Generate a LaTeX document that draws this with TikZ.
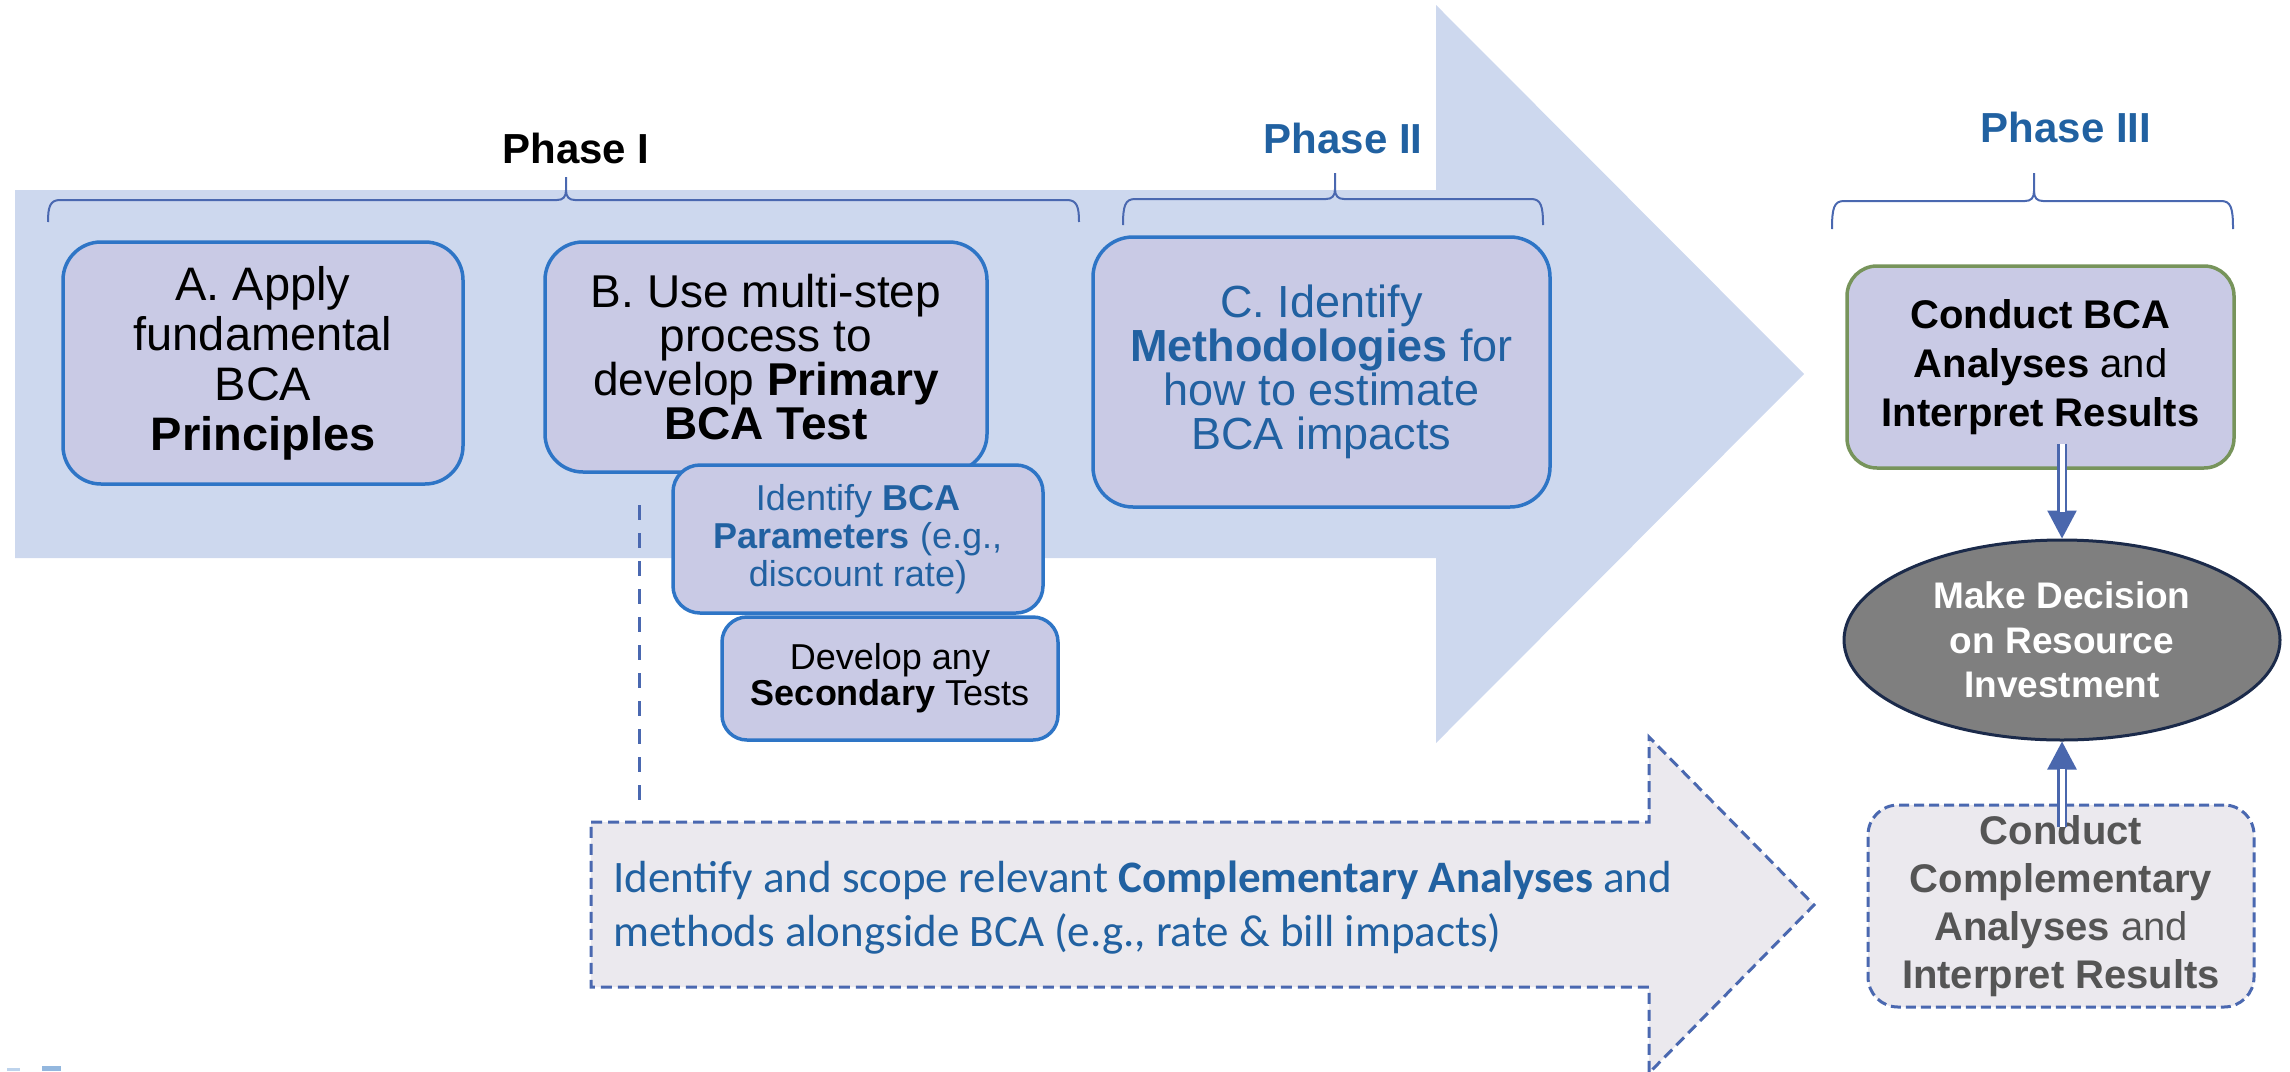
\documentclass[tikz,border=0pt]{standalone}
\usepackage{fontspec}
\setmainfont{Liberation Sans}
\newfontfamily\calibrifont{Carlito}
\usetikzlibrary{shapes.geometric,arrows.meta,calc}

\definecolor{bandfill}{HTML}{CDD8EE}
\definecolor{boxfill}{HTML}{C9CAE5}
\definecolor{boxline}{HTML}{2E75C6}
\definecolor{txtblue}{HTML}{2161A1}
\definecolor{leafgreen}{HTML}{77945B}
\definecolor{lowfill}{HTML}{EBE9EE}
\definecolor{dashblue}{HTML}{4A68B0}
\definecolor{ellfill}{HTML}{7F7F7F}
\definecolor{ellline}{HTML}{1B2A4A}
\definecolor{greytxt}{HTML}{555555}
\definecolor{arrowblue}{HTML}{4A67AD}
\definecolor{fragA}{HTML}{BDD3EC}
\definecolor{fragB}{HTML}{93B7DE}

% curly bracket over a phase: left x, right x, tip x, bar y, end y, tip y
\newcommand\phasebrace[6]{%
  \draw[brace] (#1,#5) .. controls (#1,#4+7) and (#1+2,#4) .. (#1+12,#4)
     -- (#3-9,#4) .. controls (#3-3,#4) and (#3,#4-3) .. (#3,#4-10) -- (#3,#6);
  \draw[brace] (#2,#5) .. controls (#2,#4+7) and (#2-2,#4) .. (#2-12,#4)
     -- (#3+9,#4) .. controls (#3+3,#4) and (#3,#4-3) .. (#3,#4-10);
}

\begin{document}
\begin{tikzpicture}[x=1pt,y=-1pt,
  card/.style={draw=boxline, line width=3.5pt, fill=boxfill, align=center, inner sep=0pt},
  brace/.style={draw=dashblue, line width=2pt},
  phaselabel/.style={anchor=base, font=\fontsize{42}{48}\selectfont\bfseries},
  tipline/.style={draw=arrowblue, line width=2.5pt, -{Triangle[length=28pt,width=29pt]}},
  dblline/.style={draw=arrowblue, line width=2.5pt, double=white, double distance=5pt},
  shadowline/.style={draw=black, opacity=0.18, line width=8pt},
  guide/.style={draw=dashblue, line width=3pt, dash pattern=on 15pt off 13pt},
  lowtext/.style={anchor=base west, inner sep=0pt, text=txtblue, font=\calibrifont\fontsize{45}{54}\selectfont}
]
\useasboundingbox (0,0) rectangle (2290,1071);

% wide light-blue process arrow
\fill[bandfill] (15,190) -- (1436,190) -- (1436,5) -- (1804,374) -- (1436,743)
   -- (1436,558) -- (15,558) -- cycle;

% lower dashed arrow for complementary analyses
\draw[fill=lowfill, draw=dashblue, line width=3pt, dash pattern=on 11pt off 6pt]
   (591,822) -- (1649,822) -- (1649,737) -- (1814,905) -- (1649,1073)
   -- (1649,987) -- (591,987) -- cycle;
\node[lowtext] (lowA) at (613,892) {Identify and scope relevant \textbf{Complementary Analyses} and};
\node[lowtext] (lowB) at (613,946) {methods alongside BCA (e.g., rate \& bill impacts)};

% phase brackets and labels
\phasebrace{48}{1079}{566}{200}{222}{177}
\phasebrace{1123}{1543}{1335}{199}{225}{173}
\phasebrace{1832}{2233}{2034}{201}{229}{173}
\node[phaselabel] (p1) at (576,163) {Phase I};
\node[phaselabel, text=txtblue] (p2) at (1343,153) {Phase II};
\node[phaselabel, text=txtblue] (p3) at (2066,142) {Phase III};

% dashed guide from step B down to the lower arrow
\coordinate (gtop) at (639,505);
\coordinate (gbot) at (639,800);
\draw[guide] (gtop) -- (gbot);

% Phase I steps
\node[card, rounded corners=38pt, minimum width=400pt, minimum height=242pt,
      font=\fontsize{47}{50}\selectfont] (apply) at (263,363)
  {A. Apply\\fundamental\\BCA\\\textbf{Principles}};
\node[card, rounded corners=38pt, minimum width=442pt, minimum height=230pt,
      font=\fontsize{46}{44}\selectfont] (primary) at (766,357)
  {B. Use multi-step\\process to\\develop \textbf{Primary}\\\textbf{BCA Test}};
\node[card, rounded corners=27pt, minimum width=370pt, minimum height=148pt,
      text=txtblue, font=\fontsize{36}{38}\selectfont] (params) at (858,539)
  {Identify \textbf{BCA}\\\textbf{Parameters} (e.g.,\\discount rate)};
\node[card, rounded corners=25pt, minimum width=336pt, minimum height=123pt,
      font=\fontsize{36}{36}\selectfont] (secondary) at (890,678.5)
  {Develop any\\\textbf{Secondary} Tests};

% Phase II step
\node[card, rounded corners=40pt, minimum width=457pt, minimum height=270pt,
      text=txtblue, font=\fontsize{45}{44}\selectfont] (methods) at (1321.5,372)
  {C. Identify\\\textbf{Methodologies} for\\how to estimate\\BCA impacts};

% Phase III
\node[card, draw=leafgreen, rounded corners=30pt, minimum width=387pt, minimum height=202pt,
      font=\fontsize{40}{49}\selectfont] (conduct) at (2040.5,367)
  {\textbf{Conduct BCA}\\\textbf{Analyses} and\\\textbf{Interpret Results}};
\node[ellipse, draw=ellline, line width=3pt, fill=ellfill, inner sep=0pt,
      minimum width=436pt, minimum height=200pt, align=center, text=white,
      font=\fontsize{37}{44.5}\selectfont\bfseries] (decision) at (2062,640)
  {Make Decision\\on Resource\\Investment};
\node[draw=dashblue, fill=lowfill, line width=3pt, dash pattern=on 10pt off 5pt,
      rounded corners=30pt, minimum width=386pt, minimum height=202pt, inner sep=0pt,
      align=center, text=greytxt, font=\fontsize{40}{48}\selectfont] (comp) at (2061,906)
  {\textbf{Conduct}\\\textbf{Complementary}\\\textbf{Analyses} and\\\textbf{Interpret Results}};

% links into the decision
\coordinate (c1) at ($(conduct.south -| decision.north)+(0,-26)$);
\coordinate (c2) at ($(comp.north -| decision.south)+(0,23)$);
\draw[tipline] (c1) -- (decision.north);
\draw[dblline, shorten >=27pt] (c1) -- (decision.north);
\draw[shadowline, xshift=3pt, yshift=-4pt, shorten >=22pt] (c2) -- (decision.south);
\draw[tipline] (c2) -- (decision.south);
\draw[dblline, shorten >=27pt] (c2) -- (decision.south);

% corner fragments
\fill[fragA] (7,1068) rectangle (20,1071);
\fill[fragB] (42,1066) rectangle (61,1071);
\end{tikzpicture}
\end{document}
